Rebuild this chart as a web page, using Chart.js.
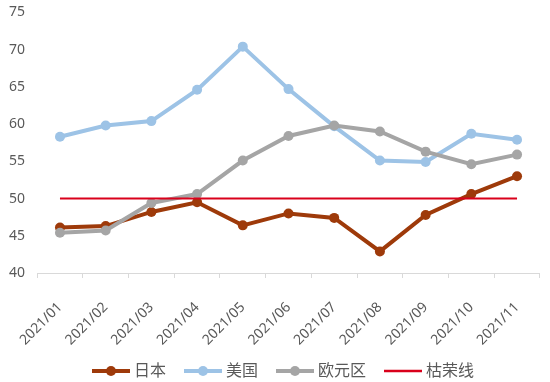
<!DOCTYPE html>
<html>
<head>
<meta charset="utf-8">
<script src="https://cdn.jsdelivr.net/npm/chart.js@4"></script>
<style>
html,body{margin:0;padding:0;background:#fff;}
#wrap{width:550px;height:382px;position:relative;}
</style>
</head>
<body>
<div id="wrap"><canvas id="c"></canvas></div>
<script>
const categories = ['2021/01','2021/02','2021/03','2021/04','2021/05','2021/06','2021/07','2021/08','2021/09','2021/10','2021/11'];
const japan = [46.1, 46.3, 48.2, 49.5, 46.4, 48.0, 47.4, 42.9, 47.8, 50.6, 53.0];
const usa   = [58.3, 59.8, 60.4, 64.6, 70.4, 64.7, 59.7, 55.1, 54.9, 58.7, 57.9];
const euro  = [45.4, 45.7, 49.4, 50.6, 55.1, 58.4, 59.8, 59.0, 56.3, 54.6, 55.9];
const boomBust = [50, 50, 50, 50, 50, 50, 50, 50, 50, 50, 50];
const seriesNames = ['日本', '美国', '欧元区', '枯荣线'];
const yTicks = [40, 45, 50, 55, 60, 65, 70, 75];

const colors = ['#9E3A0A', '#9DC3E6', '#A5A5A5', '#D9001B'];
const FONT = "'Noto Sans', 'Noto Sans CJK SC', sans-serif";

const ICON_MARGIN = 18;
const ICON_LINE = 38;
const ICON_W = ICON_MARGIN + ICON_LINE;   // canvas width
const BOX_W = ICON_W - 8;                 // legend box width
function legendIcon(color, withDot) {
  const cv = document.createElement('canvas');
  cv.width = ICON_W; cv.height = 14;
  const g = cv.getContext('2d');
  g.strokeStyle = color;
  g.lineWidth = withDot ? 4 : 2.5;
  g.beginPath(); g.moveTo(ICON_MARGIN, 7); g.lineTo(ICON_W, 7); g.stroke();
  if (withDot) {
    g.fillStyle = color;
    g.beginPath(); g.arc(ICON_MARGIN + ICON_LINE / 2, 7, 5, 0, Math.PI * 2); g.fill();
  }
  return cv;
}

const seriesData = [japan, usa, euro, boomBust];
const datasets = seriesData.map((d, i) => ({
  label: seriesNames[i],
  data: d,
  borderColor: colors[i],
  backgroundColor: colors[i],
  borderWidth: i === 3 ? 2 : 4,
  pointRadius: i === 3 ? 0 : 5,
  pointHoverRadius: i === 3 ? 0 : 5,
  pointBorderWidth: 0,
  tension: 0,
  order: 4 - i
}));

const legendFix = {
  id: 'legendFix',
  beforeLayout(chart) {
    const lg = chart.legend;
    if (lg && !lg._patched) {
      const orig = lg.fit;
      lg.fit = function () { orig.call(this); this.height -= 10; };
      lg._patched = true;
    }
  }
};

new Chart(document.getElementById('c'), {
  type: 'line',
  data: { labels: categories, datasets },
  plugins: [legendFix],
  options: {
    responsive: true,
    maintainAspectRatio: false,
    animation: false,
    layout: { padding: { left: 2, right: 0, top: 7, bottom: 3 } },
    plugins: {
      tooltip: { enabled: false },
      legend: {
        position: 'bottom',
        labels: {
          usePointStyle: true,
          pointStyleWidth: BOX_W,
          padding: 4,
          color: '#595959',
          font: { family: FONT, size: 16 },
          generateLabels: (chart) => chart.data.datasets.map((ds, i) => ({
            text: ds.label,
            fillStyle: ds.borderColor,
            strokeStyle: ds.borderColor,
            fontColor: '#595959',
            lineWidth: 0,
            pointStyle: legendIcon(ds.borderColor, i !== 3),
            hidden: false,
            datasetIndex: i
          }))
        }
      }
    },
    scales: {
      y: {
        min: 40, max: 75,
        afterBuildTicks: (axis) => { axis.ticks = yTicks.map(v => ({ value: v })); },
        grid: { display: false },
        border: { display: false },
        ticks: { color: '#595959', font: { family: FONT, size: 14 }, padding: 4 }
      },
      x: {
        offset: true,
        afterFit: (scale) => { scale.height = 86; },
        grid: { offset: true, drawOnChartArea: false, drawTicks: true, tickLength: 5, color: '#D9D9D9' },
        border: { display: true, color: '#D9D9D9', width: 1 },
        ticks: { color: '#595959', font: { family: FONT, size: 14 }, minRotation: 45, maxRotation: 45, padding: 21 }
      }
    }
  }
});
</script>
</body>
</html>
